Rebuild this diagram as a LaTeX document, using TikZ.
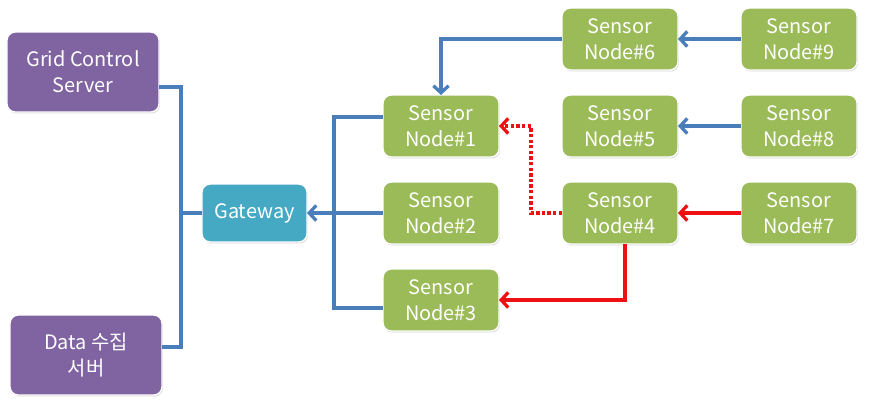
\documentclass[tikz,border=0pt]{standalone}
\usepackage{fontspec}
\setmainfont{Noto Sans CJK KR}
\usetikzlibrary{arrows.meta,positioning,calc,shadows}

\definecolor{sensorgreen}{HTML}{9BBB59}
\definecolor{serverpurple}{HTML}{8064A2}
\definecolor{gwteal}{HTML}{45A9C4}
\definecolor{linkblue}{HTML}{4A7EBB}
\definecolor{linkred}{HTML}{EE1111}

\begin{document}
\begin{tikzpicture}[
  x=0.03cm, y=-0.03cm,
  node distance=0.75cm and 1.89cm,
  every node/.style={font=\fontsize{17}{22}\selectfont},
  box/.style={rectangle, draw=white, line width=1.2pt, rounded corners=7pt,
              align=center, text=white, outer sep=0pt,
              drop shadow={opacity=0.3, shadow xshift=0.8pt, shadow yshift=-1.2pt}},
  sensor/.style={box, fill=sensorgreen, minimum width=3.48cm, minimum height=1.86cm},
  server/.style={box, fill=serverpurple, minimum width=4.56cm, minimum height=2.4cm},
  gwbox/.style={box, fill=gwteal, minimum width=3.15cm, minimum height=1.74cm},
  wire/.style={draw, line width=2.8pt, linkblue},
  line/.style={wire, -{Straight Barb[length=6pt, width=13pt]}},
  redline/.style={line, linkred}
]
\useasboundingbox (0,0) rectangle (869,406);

% =======================================================
%                     MAIN COMPONENTS
% =======================================================
\node[sensor] (n1) at (441,126) {Sensor\\Node\#1};
\node[sensor, below=of n1] (n2) {Sensor\\Node\#2};
\node[sensor, below=of n2] (n3) {Sensor\\Node\#3};

\node[sensor, right=of n1] (n5) {Sensor\\Node\#5};
\node[sensor, above=of n5] (n6) {Sensor\\Node\#6};
\node[sensor, below=of n5] (n4) {Sensor\\Node\#4};

\node[sensor, right=of n6] (n9) {Sensor\\Node\#9};
\node[sensor, right=of n5] (n8) {Sensor\\Node\#8};
\node[sensor, right=of n4] (n7) {Sensor\\Node\#7};

% Gateway and servers (left side)
\node[gwbox, left=2.28cm of n2] (gw) {Gateway};
\node[server] (grid) at (83,72) {Grid Control\\Server};
\node[server] (data) at (86,355) {Data 수집\\서버};

% =======================================================
%                     CONNECTIONS
% =======================================================

% servers <-> Gateway
\coordinate (bus_l) at ($(gw.west)+(-21,0)$);
\draw[wire] ($(grid.east)+(0,15)$) -| (bus_l) |- ($(data.east)+(0,-8)$);
\draw[wire] (bus_l) -- (gw.west);

% first column -> Gateway
\coordinate (bus_r) at ($(gw.east)+(27,0)$);
\draw[wire] ($(n1.west)+(0,-9)$) -| (bus_r) |- ($(n3.west)+(0,8)$);
\draw[line] (n2.west) -- (gw.east);

% outer columns
\draw[line] (n6.west) -| (n1.north);
\draw[line] (n9.west) -- (n6.east);
\draw[line] (n8.west) -- (n5.east);
\draw[redline] (n7.west) -- (n4.east);

% Node#4 reroutes
\coordinate (via) at ($(n4.west)+(-31,0)$);
\draw[redline, dotted] (n4.west) -- (via) |- (n1.east);
\draw[redline] ($(n4.south)+(5,0)$) |- (n3.east);

\end{tikzpicture}
\end{document}
